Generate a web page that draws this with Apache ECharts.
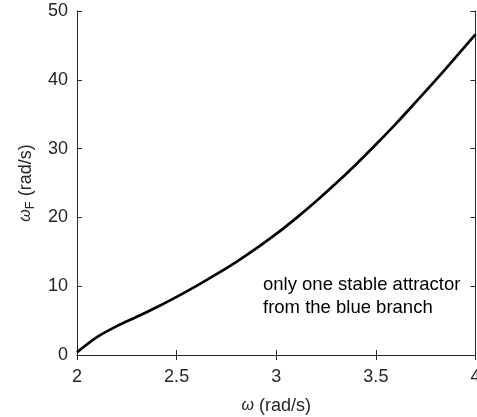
<!DOCTYPE html>
<html>
<head>
<meta charset="utf-8">
<script src="https://cdn.jsdelivr.net/npm/echarts@6/dist/echarts.min.js"></script>
<style>html,body{margin:0;padding:0;background:#fff}#c{width:477px;height:417px}</style>
</head>
<body>
<div id="c"></div>
<script>
const omega = [2.0, 2.1, 2.2, 2.3, 2.4, 2.5, 2.6, 2.7, 2.8, 2.9, 3.0, 3.1, 3.2, 3.3, 3.4, 3.5, 3.6, 3.7, 3.8, 3.9, 4.0];
const omegaF = [0.4, 2.6, 4.2, 5.55, 6.95, 8.45, 10.05, 11.75, 13.55, 15.5, 17.6, 19.9, 22.35, 24.95, 27.7, 30.6, 33.6, 36.75, 39.95, 43.25, 46.6];
const annotation = ['only one stable attractor', 'from the blue branch'];

const chart = echarts.init(document.getElementById('c'), null, {renderer: 'canvas'});
const txt = '#262626';
const font = 'Liberation Sans, Arial, sans-serif';
const axisCommon = {
  axisLine: {show: true, lineStyle: {color: txt, width: 1}},
  axisTick: {show: true, inside: true, length: 5, lineStyle: {color: txt}},
  splitLine: {show: false}
};
chart.setOption({
  animation: false,
  grid: {left: 77, right: 1.5, top: 11, bottom: 62, outerBoundsMode: 'none', containLabel: false},
  xAxis: [
    Object.assign({}, axisCommon, {
      type: 'value', min: 2, max: 4, interval: 0.5, position: 'bottom',
      axisLabel: {color: txt, fontSize: 18, fontFamily: font, margin: 13},
      name: '{i|ω} (rad/s)', nameLocation: 'middle', nameGap: 42,
      nameTextStyle: {color: txt, fontSize: 18, fontFamily: font,
        rich: {i: {fontStyle: 'italic', fontSize: 16, fontFamily: font, color: txt}}}
    }),
    Object.assign({}, axisCommon, {
      type: 'value', min: 2, max: 4, interval: 0.5, position: 'top',
      axisLabel: {show: false}
    })
  ],
  yAxis: [
    Object.assign({}, axisCommon, {
      type: 'value', min: 0, max: 50, interval: 10, position: 'left',
      axisLabel: {color: txt, fontSize: 18, fontFamily: font, margin: 9},
      name: '{w|ω}{s|F} (rad/s)', nameLocation: 'middle', nameGap: 33,
      nameTextStyle: {color: txt, fontSize: 18, fontFamily: font,
        rich: {
          w: {fontStyle: 'italic', fontSize: 16, fontFamily: font, color: txt, verticalAlign: 'middle'},
          s: {fontSize: 13, fontFamily: font, color: txt, padding: [10, 0, 0, 0]}
        }}
    }),
    Object.assign({}, axisCommon, {
      type: 'value', min: 0, max: 50, interval: 10, position: 'right',
      axisLabel: {show: false}
    })
  ],
  series: [{
    type: 'line',
    data: omega.map((x, i) => [x, omegaF[i]]),
    smooth: 0.3,
    showSymbol: false,
    lineStyle: {color: '#000', width: 2.7}
  }],
  graphic: [{
    type: 'text', left: 263, top: 274,
    style: {text: annotation.join('\n'), fill: '#000', font: '18.5px ' + font, lineHeight: 22.5}
  }]
});
</script>
</body>
</html>
